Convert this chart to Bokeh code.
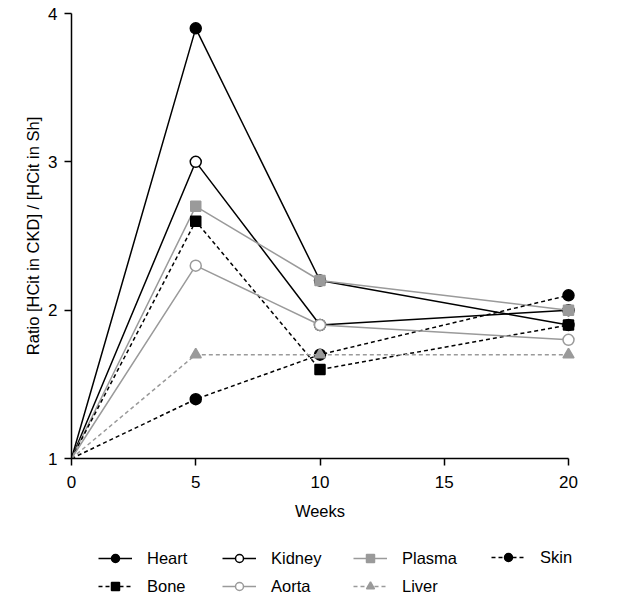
from bokeh.plotting import figure
from bokeh.models import Range1d, Legend, LegendItem, FixedTicker, LinearAxis
from bokeh.embed import file_html
from bokeh.resources import INLINE

weeks = [0, 5, 10, 20]
heart = [1.0, 3.9, 2.2, 1.9]
kidney = [1.0, 3.0, 1.9, 2.0]
plasma = [1.0, 2.7, 2.2, 2.0]
skin = [1.0, 1.4, 1.7, 2.1]
bone = [1.0, 2.6, 1.6, 1.9]
aorta = [1.0, 2.3, 1.9, 1.8]
liver = [1.0, 1.7, 1.7, 1.7]
x_ticks = [0, 5, 10, 15, 20]
y_ticks = [1, 2, 3, 4]

FONT = "Liberation Sans"
BLACK = "#000000"
GREY = "#9a9a9a"

W, H = 626, 600
# pixel layout of the axes box: x 0..20 spans 71..568, y 1..4 spans 458..13
PX_X = 497 / 20
PX_Y = 445 / 3
x_start = -71 / PX_X
x_end = (W - 71) / PX_X
y_start = 1 - (H - 458) / PX_Y
y_end = 4 + 13 / PX_Y

p = figure(output_backend="svg", toolbar_location=None,
           width=W, height=H,
           x_range=Range1d(x_start, x_end), y_range=Range1d(y_start, y_end),
           min_border_left=0, min_border_right=0, min_border_top=0,
           min_border_bottom=0, x_axis_location=None, y_axis_location=None)
p.outline_line_color = None
p.xgrid.visible = False
p.ygrid.visible = False

xaxis = LinearAxis(fixed_location=1)
yaxis = LinearAxis(fixed_location=0)
p.add_layout(xaxis, "below")
p.add_layout(yaxis, "left")

for ax in (xaxis, yaxis):
    ax.axis_line_width = 1.5
    ax.axis_line_color = BLACK
    ax.major_tick_line_width = 1.5
    ax.major_tick_line_color = BLACK
    ax.major_tick_out = 7
    ax.major_tick_in = 0
    ax.minor_tick_line_color = None
    ax.major_label_text_font = FONT
    ax.major_label_text_font_size = "17px"
    ax.major_label_text_color = BLACK
    ax.axis_label_text_font = FONT
    ax.axis_label_text_font_size = "16.5px"
    ax.axis_label_text_font_style = "normal"
    ax.axis_label_text_color = BLACK

xaxis.ticker = FixedTicker(ticks=x_ticks)
yaxis.ticker = FixedTicker(ticks=y_ticks)
xaxis.bounds = (0, 20)
yaxis.bounds = (1, 4)
xaxis.axis_label = "Weeks"
yaxis.axis_label = "Ratio [HCit in CKD] / [HCit in Sh]"
xaxis.major_label_standoff = 10
yaxis.major_label_standoff = 7
xaxis.axis_label_standoff = 11
yaxis.axis_label_standoff = 3

series = [
    ("Heart", heart, BLACK, None, "circle", BLACK, BLACK),
    ("Kidney", kidney, BLACK, None, "circle", "white", BLACK),
    ("Plasma", plasma, GREY, None, "square", GREY, GREY),
    ("Skin", skin, BLACK, "4 3", "circle", BLACK, BLACK),
    ("Bone", bone, BLACK, "4 3", "square", BLACK, BLACK),
    ("Aorta", aorta, GREY, None, "circle", "white", GREY),
    ("Liver", liver, GREY, "4 3", "triangle", GREY, GREY),
]

items = {}
for name, ys, col, dash, marker, fill, edge in series:
    lr = p.line(weeks, ys, line_color=col, line_width=1.5,
                line_dash=dash if dash else "solid")
    sr = p.scatter(weeks[1:], ys[1:], marker=marker, size=11 if marker != "square" else 10,
                   fill_color=fill, line_color=edge, line_width=1.5)
    items[name] = LegendItem(label=name, renderers=[lr, sr])

# legend columns (GraphPad-style grid), one small legend per column;
# location = (left, bottom) in px from the frame's bottom-left corner
columns = [["Heart", "Bone"], ["Kidney", "Aorta"], ["Plasma", "Liver"], ["Skin"]]
col_x = [98, 222, 353, 491]
col_bottom = [4, 4, 4, 33]
for names, cx, cb in zip(columns, col_x, col_bottom):
    lg = Legend(items=[items[n] for n in names], orientation="vertical",
                location=(cx, cb),
                label_text_font=FONT, label_text_font_size="16.5px",
                label_text_color=BLACK, glyph_width=34, glyph_height=20,
                label_standoff=15, spacing=8, padding=2, margin=0,
                border_line_color=None, background_fill_alpha=0)
    p.add_layout(lg, "center")

open("out.html", "w").write(file_html(p, INLINE))
